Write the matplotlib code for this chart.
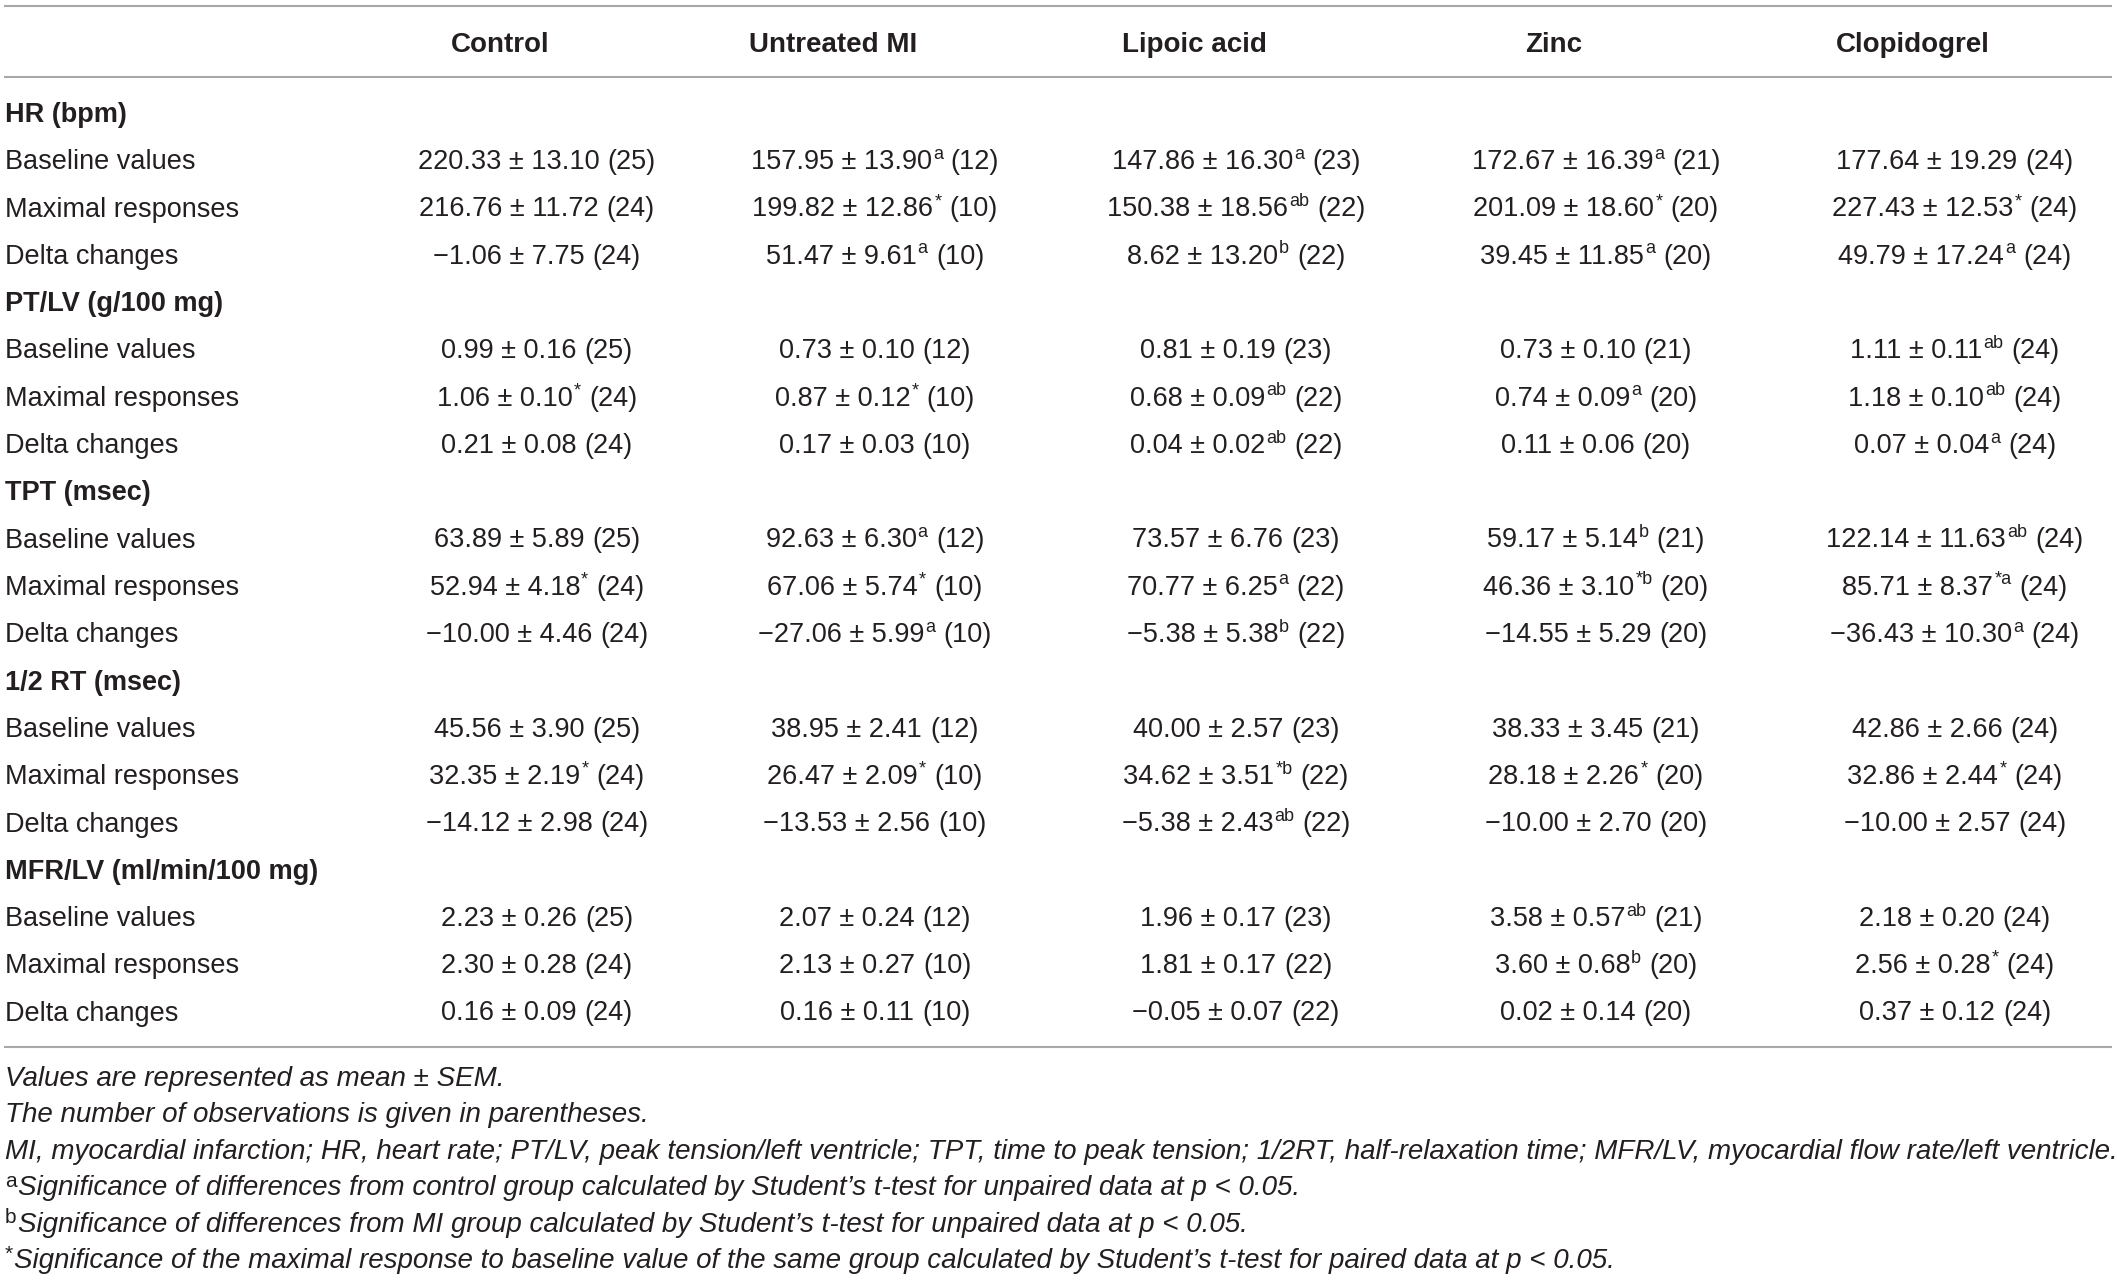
import matplotlib.pyplot as plt

# --- table content -------------------------------------------------------
columns = ['Control', 'Untreated MI', 'Lipoic acid', 'Zinc', 'Clopidogrel']
params = ['HR (bpm)', 'PT/LV (g/100 mg)', 'TPT (msec)', '1/2 RT (msec)',
          'MFR/LV (ml/min/100 mg)']
row_names = ['Baseline values', 'Maximal responses', 'Delta changes']

# number of observations (same for every parameter)
n_obs = [[25, 12, 23, 21, 24],
         [24, 10, 22, 20, 24],
         [24, 10, 22, 20, 24]]

hr_mean = [[220.33, 157.95, 147.86, 172.67, 177.64],
           [216.76, 199.82, 150.38, 201.09, 227.43],
           [-1.06, 51.47, 8.62, 39.45, 49.79]]
hr_sem = [[13.10, 13.90, 16.30, 16.39, 19.29],
          [11.72, 12.86, 18.56, 18.60, 12.53],
          [7.75, 9.61, 13.20, 11.85, 17.24]]
hr_sig = [['', 'a', 'a', 'a', ''],
          ['', '*', 'ab', '*', '*'],
          ['', 'a', 'b', 'a', 'a']]

pt_mean = [[0.99, 0.73, 0.81, 0.73, 1.11],
           [1.06, 0.87, 0.68, 0.74, 1.18],
           [0.21, 0.17, 0.04, 0.11, 0.07]]
pt_sem = [[0.16, 0.10, 0.19, 0.10, 0.11],
          [0.10, 0.12, 0.09, 0.09, 0.10],
          [0.08, 0.03, 0.02, 0.06, 0.04]]
pt_sig = [['', '', '', '', 'ab'],
          ['*', '*', 'ab', 'a', 'ab'],
          ['', '', 'ab', '', 'a']]

tpt_mean = [[63.89, 92.63, 73.57, 59.17, 122.14],
            [52.94, 67.06, 70.77, 46.36, 85.71],
            [-10.00, -27.06, -5.38, -14.55, -36.43]]
tpt_sem = [[5.89, 6.30, 6.76, 5.14, 11.63],
           [4.18, 5.74, 6.25, 3.10, 8.37],
           [4.46, 5.99, 5.38, 5.29, 10.30]]
tpt_sig = [['', 'a', '', 'b', 'ab'],
           ['*', '*', 'a', '*b', '*a'],
           ['', 'a', 'b', '', 'a']]

rt_mean = [[45.56, 38.95, 40.00, 38.33, 42.86],
           [32.35, 26.47, 34.62, 28.18, 32.86],
           [-14.12, -13.53, -5.38, -10.00, -10.00]]
rt_sem = [[3.90, 2.41, 2.57, 3.45, 2.66],
          [2.19, 2.09, 3.51, 2.26, 2.44],
          [2.98, 2.56, 2.43, 2.70, 2.57]]
rt_sig = [['', '', '', '', ''],
          ['*', '*', '*b', '*', '*'],
          ['', '', 'ab', '', '']]

mfr_mean = [[2.23, 2.07, 1.96, 3.58, 2.18],
            [2.30, 2.13, 1.81, 3.60, 2.56],
            [0.16, 0.16, -0.05, 0.02, 0.37]]
mfr_sem = [[0.26, 0.24, 0.17, 0.57, 0.20],
           [0.28, 0.27, 0.17, 0.68, 0.28],
           [0.09, 0.11, 0.07, 0.14, 0.12]]
mfr_sig = [['', '', '', 'ab', ''],
           ['', '', '', 'b', '*'],
           ['', '', '', '', '']]

footnotes = [
    ('', 'Values are represented as mean \u00b1 SEM.'),
    ('', 'The number of observations is given in parentheses.'),
    ('', 'MI, myocardial infarction; HR, heart rate; PT/LV, peak tension/left ventricle; '
         'TPT, time to peak tension; 1/2RT, half-relaxation time; MFR/LV, myocardial flow rate/left ventricle.'),
    ('a', 'Significance of differences from control group calculated by Student\u2019s t-test '
          'for unpaired data at p < 0.05.'),
    ('b', 'Significance of differences from MI group calculated by Student\u2019s t-test '
          'for unpaired data at p < 0.05.'),
    ('*', 'Significance of the maximal response to baseline value of the same group calculated '
          'by Student\u2019s t-test for paired data at p < 0.05.'),
]

means = [hr_mean, pt_mean, tpt_mean, rt_mean, mfr_mean]
sems = [hr_sem, pt_sem, tpt_sem, rt_sem, mfr_sem]
sigs = [hr_sig, pt_sig, tpt_sig, rt_sig, mfr_sig]

# --- layout ---------------------------------------------------------------
W, H = 2117, 1283
plt.rcParams['font.family'] = ['Liberation Sans', 'DejaVu Sans']
txt_color = '#231f20'
rule_color = '#a8a8a8'
fs = 19.5
fs_sup = 13
fs_note = 20
em = fs * 100 / 72

fig = plt.figure(figsize=(W / 100, H / 100), dpi=100)
ax = fig.add_axes([0, 0, 1, 1])
ax.set_xlim(0, W)
ax.set_ylim(H, 0)
ax.axis('off')
rend = fig.canvas.get_renderer()


def width(t):
    return t.get_window_extent(renderer=rend).width


head_x = [500, 833, 1194, 1554, 1913]
data_x = [537, 875, 1236, 1596, 1955]
y_head = 42
y_first = 112
pitch = 47.3
shift = 0.36 * em       # center -> baseline


def cell(xc, yc, mean, sem, sig, n):
    sign = '\u2212' if mean < 0 else ''
    yb = yc + shift
    t1 = ax.text(0, yb, f'{sign}{abs(mean):.2f} \u00b1 {sem:.2f}', fontsize=fs,
                 color=txt_color, va='baseline', ha='left')
    t3 = ax.text(0, yb, f'({n})', fontsize=fs, color=txt_color, va='baseline', ha='left')
    w1, w3 = width(t1), width(t3)
    gap = 0.30 * em
    w2 = 0
    t2 = None
    if sig:
        t2 = ax.text(0, yb - 0.38 * em, sig, fontsize=fs_sup, color=txt_color,
                     va='baseline', ha='left')
        w2 = width(t2) + 1
    x0 = xc - (w1 + w2 + gap + w3) / 2
    t1.set_x(x0)
    if t2 is not None:
        t2.set_x(x0 + w1 + 1)
    t3.set_x(x0 + w1 + w2 + gap)


# rules
for y in (6, 77, 1047):
    ax.plot([4, 2112], [y, y], color=rule_color, lw=1.5, solid_capstyle='butt')

for name, x in zip(columns, head_x):
    ax.text(x, y_head, name, fontsize=fs + 0.5, fontweight='bold', color=txt_color,
            ha='center', va='center_baseline')

row = 0
for g, pname in enumerate(params):
    y = y_first + row * pitch
    ax.text(5, y, pname, fontsize=fs, fontweight='bold', color=txt_color,
            ha='left', va='center_baseline')
    row += 1
    for r_i, rname in enumerate(row_names):
        y = y_first + row * pitch
        ax.text(5, y, rname, fontsize=fs, color=txt_color, ha='left', va='center_baseline')
        for c in range(len(columns)):
            cell(data_x[c], y, means[g][r_i][c], sems[g][r_i][c], sigs[g][r_i][c],
                 n_obs[r_i][c])
        row += 1

# footnotes
y_note = 1076
note_pitch = 36.4
for k, (mark, text) in enumerate(footnotes):
    y = y_note + k * note_pitch + 0.36 * fs_note * 100 / 72
    x = 5
    if mark:
        tm = ax.text(x, y - 0.3 * em, mark, fontsize=15, color=txt_color,
                     va='baseline', ha='left')
        x += width(tm) + 1
    ax.text(x, y, text, fontsize=fs_note, style='italic', color=txt_color,
            va='baseline', ha='left')

plt.savefig('out.png', dpi=100)
